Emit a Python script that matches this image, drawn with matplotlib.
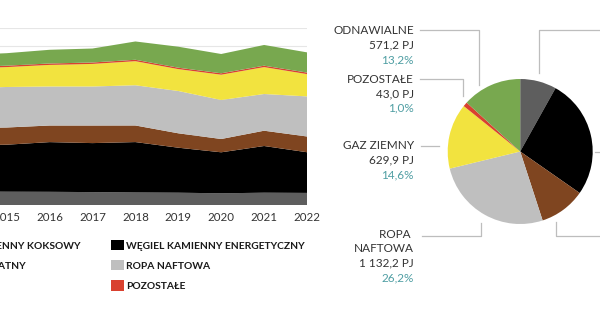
import matplotlib.pyplot as plt
from matplotlib.patches import Patch

plt.rcParams['font.family'] = ['Lato', 'DejaVu Sans']

# zużycie energii pierwotnej, PJ
years = [2014, 2015, 2016, 2017, 2018, 2019, 2020, 2021, 2022]
wegiel_brunatny = [390, 384, 381, 373, 362, 356, 339, 356, 350]
wegiel_energetyczny = [1300, 1328, 1404, 1384, 1424, 1271, 1158, 1319, 1149]
wegiel_koksowy = [490, 486, 469, 497, 469, 407, 376, 432, 445]
ropa_naftowa = [1130, 1144, 1102, 1102, 1136, 1195, 1102, 1037, 1132.2]
gaz_ziemny = [550, 562, 610, 638, 680, 618, 714, 760, 629.9]
pozostale = [40, 40, 40, 40, 40, 40, 40, 40, 43.0]
odnawialne = [345, 353, 387, 395, 517, 593, 545, 585, 571.2]

names = ['WĘGIEL BRUNATNY', 'WĘGIEL KAMIENNY ENERGETYCZNY',
         'WĘGIEL KAMIENNY KOKSOWY', 'ROPA NAFTOWA', 'GAZ ZIEMNY',
         'POZOSTAŁE', 'ODNAWIALNE']
colors = ['#5e5e5e', '#000000', '#7f4520', '#bfbfbf', '#f2e33f',
          '#d9412f', '#78a84f']

pie_values = [350, 1149, 445, 1132.2, 629.9, 43.0, 571.2]

TXT = '#333333'
TEAL = '#4f9ea3'

fig = plt.figure(figsize=(6, 3.3), dpi=100)

# --- stacked area ---
ax = fig.add_axes([0, 1 - 205.3 / 330, 307 / 600, 177 / 330])
ax.stackplot(years, wegiel_brunatny, wegiel_energetyczny, wegiel_koksowy,
             ropa_naftowa, gaz_ziemny, pozostale, odnawialne,
             colors=colors, linewidth=0, zorder=2)
ax.set_xlim(2015 - 6.7 / 42.9, 2022)
ax.set_ylim(0, 5000)
ax.set_yticks(range(0, 5001, 500))
ax.set_yticklabels([])
ax.set_xticks(years[1:])
ax.tick_params(length=0, pad=4.5, labelsize=8.3, labelcolor=TXT)
ax.grid(axis='y', color='#e6e6e6', lw=0.8, zorder=0)
ax.set_axisbelow(True)
for s in ax.spines.values():
    s.set_visible(False)

# legend: two columns visible (koksowy/brunatny, then energetyczny/ropa/pozostałe)
order = [2, 0, None, 1, 3, 5]
handles = []
for i in order:
    if i is None:
        handles.append(Patch(facecolor='none', edgecolor='none', label=' '))
    else:
        handles.append(Patch(facecolor=colors[i], edgecolor='none', label=names[i]))
fig.legend(handles=handles, ncol=2, loc='upper right',
           bbox_to_anchor=(305 / 600, 1 - 240 / 330), frameon=False,
           borderpad=0, borderaxespad=0, handlelength=1.2, handleheight=1.17,
           handletextpad=0.26, labelspacing=0.92, columnspacing=3.0,
           prop={'family': 'Lato', 'weight': 'bold', 'size': 7.4},
           labelcolor='#1a1a1a')

# --- pie ---
cx, cy, r = 520.2, 151.5, 72.5
pax = fig.add_axes([(cx - r) / 600, (330 - cy - r) / 330, 2 * r / 600, 2 * r / 330])
pax.pie(pie_values, colors=colors, startangle=90, counterclock=False,
        wedgeprops={'linewidth': 0})
pax.set_xlim(-1, 1)
pax.set_ylim(-1, 1)
pax.set_aspect('equal')
pax.axis('off')

total = sum(pie_values)


def fmt_pj(v):
    return f'{v:,.1f}'.replace(',', ' ').replace('.', ',') + ' PJ'


def fmt_pct(v):
    return f'{100 * v / total:.1f}'.replace('.', ',') + '%'


lc = dict(color='#bdbdbd', lw=0.9, clip_on=False)
step = 0.2
lx = -1.465


def label(lines, idx, v0):
    y = v0
    for ln in lines:
        pax.text(lx, y, ln, ha='right', va='center', fontsize=8.5, color=TXT)
        y -= step
    pax.text(lx, y, fmt_pj(pie_values[idx]), ha='right', va='center', fontsize=8.5, color=TXT)
    y -= step
    pax.text(lx, y, fmt_pct(pie_values[idx]), ha='right', va='center', fontsize=8.5, color=TEAL)


label(['ODNAWIALNE'], 6, 1.666)
pax.plot([-1.382, -0.568, -0.568], [1.676, 1.676, 0.917], **lc)

label(['POZOSTAŁE'], 5, 0.999)
pax.plot([-1.382, -0.793, -0.793], [1.0, 1.0, 0.766], **lc)

label(['GAZ ZIEMNY'], 4, 0.08)
pax.plot([-1.374, -1.12], [0.08, 0.08], **lc)

label(['ROPA ', 'NAFTOWA'], 3, -1.138)
pax.plot([-1.359, -0.545, -0.545], [-1.166, -1.166, -0.982], **lc)

# right-hand leaders (labels lie beyond the crop)
pax.plot([0.263, 0.263, 1.4], [1.083, 1.676, 1.676], **lc)
pax.plot([1.032, 1.4], [0.0, 0.0], **lc)
pax.plot([0.494, 0.494, 1.4], [-0.972, -1.161, -1.161], **lc)

fig.savefig('out.png', dpi=100)
